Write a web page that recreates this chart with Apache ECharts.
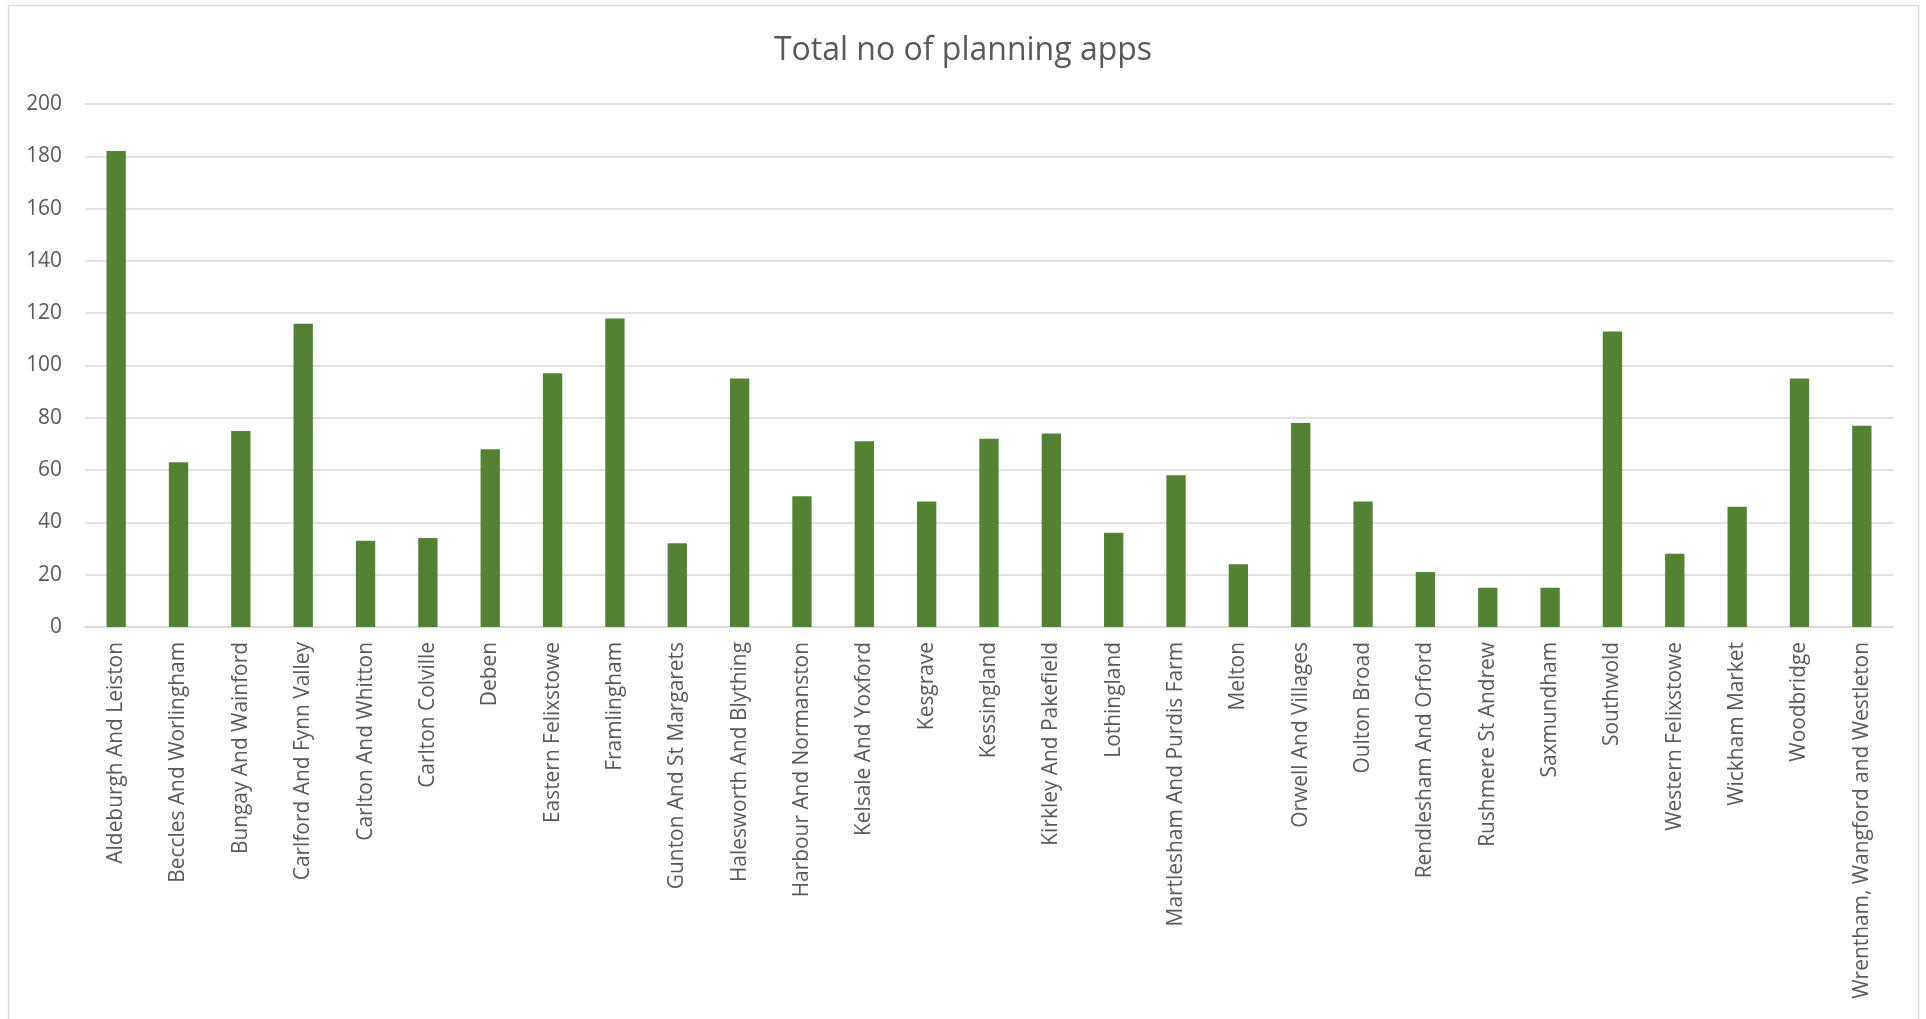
<!DOCTYPE html>
<html>
<head>
<meta charset="utf-8">
<script src="https://cdn.jsdelivr.net/npm/echarts@6/dist/echarts.min.js"></script>
<style>
html,body{margin:0;padding:0;background:#fff;}
#chart{width:1926px;height:1019px;}
</style>
</head>
<body>
<div id="chart"></div>
<script>
const categories = [
  "Aldeburgh And Leiston","Beccles And Worlingham","Bungay And Wainford","Carlford And Fynn Valley",
  "Carlton And Whitton","Carlton Colville","Deben","Eastern Felixstowe","Framlingham",
  "Gunton And St Margarets","Halesworth And Blything","Harbour And Normanston","Kelsale And Yoxford",
  "Kesgrave","Kessingland","Kirkley And Pakefield","Lothingland","Martlesham And Purdis Farm",
  "Melton","Orwell And Villages","Oulton Broad","Rendlesham And Orford","Rushmere St Andrew",
  "Saxmundham","Southwold","Western Felixstowe","Wickham Market","Woodbridge",
  "Wrentham, Wangford and Westleton"
];
const totalApps = [182,63,75,116,33,34,68,97,118,32,95,50,71,48,72,74,36,58,24,78,48,21,15,15,113,28,46,95,77];
const chartTitle = "Total no of planning apps";
const yTicks = [0,20,40,60,80,100,120,140,160,180,200];

const chart = echarts.init(document.getElementById('chart'));
const font = "'Open Sans', sans-serif";
chart.setOption({
  animation: false,
  backgroundColor: '#ffffff',
  title: {
    text: chartTitle,
    left: 'center',
    top: 30,
    textStyle: { fontFamily: font, fontSize: 32, fontWeight: 'normal', color: '#595959' }
  },
  graphic: [{
    type: 'rect',
    shape: { x: 8.5, y: 5.5, width: 1910, height: 1100 },
    style: { fill: 'none', stroke: '#d9d9d9', lineWidth: 1.5 },
    silent: true
  }],
  grid: { left: 85, right: 33, top: 104, bottom: 392, containLabel: false },
  xAxis: {
    type: 'category',
    data: categories,
    axisLine: { show: true, lineStyle: { color: '#d9d9d9', width: 1.5 } },
    axisTick: { show: false },
    axisLabel: {
      rotate: 90, interval: 0, margin: 15,
      fontFamily: font, fontSize: 20.9, color: '#595959'
    }
  },
  yAxis: {
    type: 'value',
    min: yTicks[0], max: yTicks[yTicks.length - 1], interval: 20,
    axisLine: { show: false },
    axisTick: { show: false },
    splitLine: { lineStyle: { color: '#d9d9d9', width: 1.5 } },
    axisLabel: { margin: 23, fontFamily: font, fontSize: 20.9, color: '#595959' }
  },
  series: [{
    type: 'bar',
    data: totalApps,
    barWidth: '31%',
    itemStyle: { color: '#548235' }
  }]
});
</script>
</body>
</html>
